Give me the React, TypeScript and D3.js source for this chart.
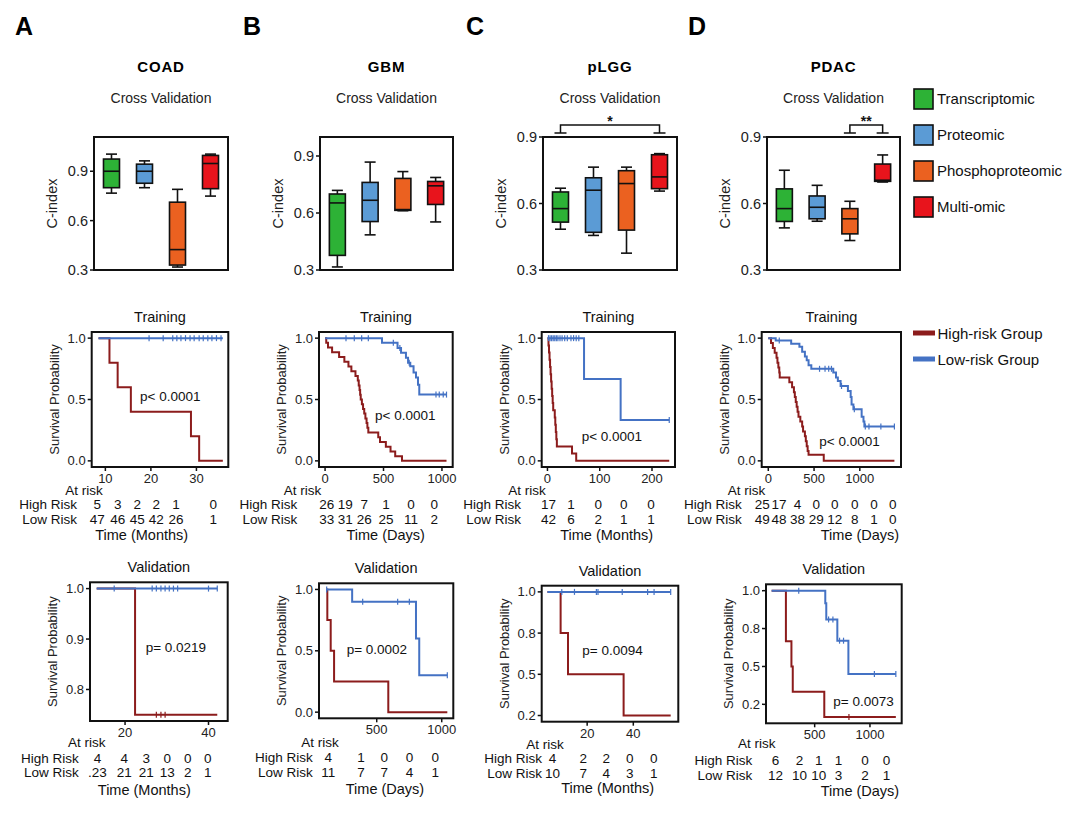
import React from "react";
import * as d3 from "d3";

const FONT = "'Liberation Sans', Arial, Helvetica, sans-serif";

// ---- cross validation C-index ----
const omics = ["Transcriptomic", "Proteomic", "Phosphoproteomic", "Multi-omic"];
const omicColors = ["#2db236", "#5b9bd5", "#eb6120", "#e8141c"];
const cindexTicks = [0.3, 0.6, 0.9];

// [min, q1, median, q3, max] for each omic
const coadCindex = [
  [0.767, 0.8, 0.9, 0.974, 1.004],
  [0.8, 0.827, 0.9, 0.943, 0.963],
  [0.318, 0.33, 0.424, 0.712, 0.79],
  [0.749, 0.794, 0.947, 0.996, 1.004],
];
const gbmCindex = [
  [0.316, 0.377, 0.653, 0.7, 0.719],
  [0.485, 0.555, 0.667, 0.761, 0.868],
  [0.612, 0.614, 0.618, 0.782, 0.818],
  [0.553, 0.645, 0.743, 0.766, 0.787],
];
const plggCindex = [
  [0.484, 0.516, 0.577, 0.652, 0.669],
  [0.456, 0.47, 0.66, 0.716, 0.764],
  [0.376, 0.48, 0.69, 0.748, 0.764],
  [0.656, 0.667, 0.72, 0.82, 0.825],
];
const pdacCindex = [
  [0.49, 0.519, 0.577, 0.666, 0.75],
  [0.52, 0.531, 0.583, 0.634, 0.682],
  [0.433, 0.463, 0.531, 0.577, 0.61],
  [0.697, 0.7, 0.705, 0.778, 0.819],
];
const plggSig = [["Transcriptomic", "Multi-omic", "*"]];
const pdacSig = [["Phosphoproteomic", "Multi-omic", "**"]];

// ---- survival ----
const groups = ["High-risk Group", "Low-risk Group"];
const groupColors = ["#8c1c1c", "#4472c4"];
const survTicks = [0, 0.5, 1];
const survTickLabels = ["0.0", "0.5", "1.0"];

// steps are [time, survival]
const coadTrainHigh = [[8.5, 1], [10.9, 0.8], [12.7, 0.6], [15.6, 0.4], [28.8, 0.2], [30.6, 0]];
const coadTrainLow = [[8.5, 1]];
const coadTrainLowCensor = [19.6, 22.7, 24.8, 25.7, 26.6, 27.6, 28.6, 29.5, 30.6, 31.5, 32.5, 33.4, 34.4, 35.4];
const coadTrainRiskTimes = [8.2, 12.7, 17, 21.2, 25.5, 33.7];
const coadTrainRiskHigh = [5, 3, 2, 2, 1, 0];
const coadTrainRiskLow = [47, 46, 45, 42, 26, 1];

const gbmTrainHigh = [[0, 1], [10, 0.962], [25, 0.923], [60, 0.885], [120, 0.846], [165, 0.808], [200, 0.769], [225, 0.731], [260, 0.692], [280, 0.654], [288, 0.615], [295, 0.577], [300, 0.538], [305, 0.5], [315, 0.462], [325, 0.423], [335, 0.385], [345, 0.346], [355, 0.308], [362, 0.269], [370, 0.231], [455, 0.192], [470, 0.154], [520, 0.115], [560, 0.077], [600, 0.038], [658, 0]];
const gbmTrainLow = [[0, 1], [487, 0.963], [620, 0.92], [650, 0.88], [692, 0.84], [710, 0.8], [729, 0.77], [757, 0.72], [778, 0.68], [795, 0.62], [806, 0.54]];
const gbmTrainLowCensor = [179, 250, 313, 370, 584, 640, 720, 949, 977, 1011, 1039];
const gbmTrainRiskTimes = [14, 173, 336, 521, 735, 934];
const gbmTrainRiskHigh = [26, 19, 7, 1, 0, 0];
const gbmTrainRiskLow = [33, 31, 26, 25, 11, 2];

const plggTrainHigh = [[0, 1], [2, 0.941], [3, 0.882], [4, 0.824], [5, 0.765], [6, 0.706], [7, 0.647], [8, 0.588], [9, 0.529], [10, 0.471], [11, 0.412], [14, 0.353], [15, 0.294], [16, 0.235], [17, 0.176], [18, 0.118], [47, 0.059], [55, 0]];
const plggTrainLow = [[0, 1], [70, 0.667], [140, 0.333]];
const plggTrainLowCensor = [2, 5, 8, 11, 14, 17, 20, 24, 28, 33, 38, 45, 50, 55, 60, 233];
const plggTrainRiskTimes = [2, 45, 97, 146, 198];
const plggTrainRiskHigh = [17, 1, 0, 0, 0];
const plggTrainRiskLow = [42, 6, 2, 1, 1];

const pdacTrainHigh = [[0, 1], [30, 0.96], [50, 0.92], [70, 0.88], [90, 0.84], [100, 0.8], [110, 0.76], [120, 0.72], [125, 0.68], [230, 0.64], [260, 0.6], [280, 0.56], [290, 0.52], [300, 0.48], [310, 0.44], [320, 0.4], [330, 0.36], [350, 0.32], [370, 0.28], [380, 0.24], [400, 0.2], [410, 0.16], [420, 0.12], [430, 0.08], [440, 0.05], [606, 0]];
const pdacTrainLow = [[0, 1], [81, 0.98], [250, 0.955], [340, 0.93], [370, 0.89], [400, 0.85], [420, 0.82], [440, 0.78], [470, 0.75], [710, 0.72], [740, 0.68], [760, 0.65], [790, 0.61], [870, 0.57], [900, 0.52], [910, 0.46], [930, 0.42], [1020, 0.36], [1040, 0.32], [1050, 0.28]];
const pdacTrainLowCensor = [120, 560, 620, 660, 690, 800, 940, 1060, 1100, 1230, 1378];
const pdacTrainRiskTimes = [-66, 118, 320, 523, 725, 945, 1154, 1359];
const pdacTrainRiskHigh = [25, 17, 4, 0, 0, 0, 0, 0];
const pdacTrainRiskLow = [49, 48, 38, 29, 12, 8, 1, 0];

const coadValHigh = [[13.2, 1], [22.4, 0.75]];
const coadValHighCensor = [27.5, 28.6, 29.6];
const coadValLow = [[13.2, 1]];
const coadValLowCensor = [17.4, 26.5, 27.5, 28.6, 29.6, 30.6, 31.6, 32.6, 40, 42.1];
const coadValRiskTimes = [13.4, 19.8, 25.1, 30.1, 35, 39.8];
const coadValRiskHigh = [4, 4, 3, 0, 0, 0];
const coadValRiskLow = [".23", 21, 21, 13, 2, 1];

const gbmValHigh = [[115, 1], [120, 0.75], [146, 0.5], [172, 0.25], [589, 0]];
const gbmValLow = [[115, 1], [311, 0.9], [802, 0.6], [827, 0.3]];
const gbmValLowCensor = [115, 392, 661, 751, 1043];
const gbmValRiskTimes = [128, 380, 557, 752, 950];
const gbmValRiskHigh = [4, 1, 0, 0, 0];
const gbmValRiskLow = [11, 7, 7, 4, 1];

const plggValHigh = [[2.8, 1], [8.5, 0.75], [11.7, 0.5], [35.8, 0.25]];
const plggValLow = [[2.8, 1]];
const plggValLowCensor = [9, 14.5, 24, 24.7, 35.2, 46.2, 49, 56.2];
const plggValRiskTimes = [5, 18.3, 28.3, 38.5, 48.9];
const plggValRiskHigh = [4, 2, 2, 0, 0];
const plggValRiskLow = [10, 7, 4, 3, 1];

const pdacValHigh = [[111, 1], [240, 0.667], [290, 0.5], [302, 0.333], [587, 0.167]];
const pdacValHighCensor = [810];
const pdacValLow = [[111, 1], [596, 0.917], [605, 0.81], [705, 0.67], [805, 0.45]];
const pdacValLowCensor = [356, 626, 665, 725, 761, 1040, 1234];
const pdacValRiskTimes = [147, 362, 536, 716, 955, 1150];
const pdacValRiskHigh = [6, 2, 1, 1, 0, 0];
const pdacValRiskLow = [12, 10, 10, 3, 2, 1];

const quarterTicks = [0.25, 0.5, 0.75, 1];
const quarterTickLabels = ["0.2", "0.5", "0.8", "1.0"];

const boxPanels = [
  { letter: "A", letterX: 15, title: "COAD", frame: [94, 228, 137, 270], domain: [0.3, 1.108], stats: coadCindex, sig: [] },
  { letter: "B", letterX: 243, title: "GBM", frame: [320, 453, 137, 270], domain: [0.3, 1.0], stats: gbmCindex, sig: [] },
  { letter: "C", letterX: 466, title: "pLGG", frame: [543, 677, 137, 270], domain: [0.3, 0.9], stats: plggCindex, sig: plggSig },
  { letter: "D", letterX: 688, title: "PDAC", frame: [767, 900, 137, 270], domain: [0.3, 0.9], stats: pdacCindex, sig: pdacSig },
];

const kmPanels = [
  { title: "Training", frame: [91.7, 228.3, 332, 467], xDomain: [7, 37], yDomain: [-0.05, 1.05], xTicks: [10, 20, 30], yTicks: survTicks, yLabels: survTickLabels, high: coadTrainHigh, highCensor: [], low: coadTrainLow, lowCensor: coadTrainLowCensor, end: 35.8, p: "p< 0.0001", pAt: [140, 401], riskTimes: coadTrainRiskTimes, riskHigh: coadTrainRiskHigh, riskLow: coadTrainRiskLow, atRiskAt: [84, 494.5], rowLabelX: 77, rowY: [509, 524], timeLabel: "Time (Months)", timeAt: [141.7, 540] },
  { title: "Training", frame: [319, 452.7, 332, 467], xDomain: [-52, 1092], yDomain: [-0.05, 1.05], xTicks: [0, 500, 1000], yTicks: survTicks, yLabels: survTickLabels, high: gbmTrainHigh, highCensor: [], low: gbmTrainLow, lowCensor: gbmTrainLowCensor, end: 1039, p: "p< 0.0001", pAt: [375, 419.5], riskTimes: gbmTrainRiskTimes, riskHigh: gbmTrainRiskHigh, riskLow: gbmTrainRiskLow, atRiskAt: [302.5, 494.5], rowLabelX: 297.3, rowY: [509, 524], timeLabel: "Time (Days)", timeAt: [385.7, 540] },
  { title: "Training", frame: [541.7, 675, 332, 467], xDomain: [-11, 244], yDomain: [-0.05, 1.05], xTicks: [0, 100, 200], yTicks: survTicks, yLabels: survTickLabels, high: plggTrainHigh, highCensor: [], low: plggTrainLow, lowCensor: plggTrainLowCensor, end: 233, p: "p< 0.0001", pAt: [581.7, 441], riskTimes: plggTrainRiskTimes, riskHigh: plggTrainRiskHigh, riskLow: plggTrainRiskLow, atRiskAt: [527, 494.5], rowLabelX: 521, rowY: [509, 524], timeLabel: "Time (Months)", timeAt: [606.7, 540] },
  { title: "Training", frame: [761.7, 901, 332, 467], xDomain: [-72, 1450], yDomain: [-0.05, 1.05], xTicks: [0, 500, 1000], yTicks: survTicks, yLabels: survTickLabels, high: pdacTrainHigh, highCensor: [], low: pdacTrainLow, lowCensor: pdacTrainLowCensor, end: 1378, p: "p< 0.0001", pAt: [819.3, 446], riskTimes: pdacTrainRiskTimes, riskHigh: pdacTrainRiskHigh, riskLow: pdacTrainRiskLow, atRiskAt: [746.5, 494.5], rowLabelX: 741.7, rowY: [509, 524], timeLabel: "Time (Days)", timeAt: [860, 540] },
  { title: "Validation", frame: [90, 227.7, 582.3, 721], xDomain: [11.6, 44.6], yDomain: [0.7375, 1.0125], xTicks: [20, 40], yTicks: [0.8, 0.9, 1], yLabels: ["0.8", "0.9", "1.0"], high: coadValHigh, highCensor: coadValHighCensor, low: coadValLow, lowCensor: coadValLowCensor, end: 42.1, p: "p= 0.0219", pAt: [145.7, 652], riskTimes: coadValRiskTimes, riskHigh: coadValRiskHigh, riskLow: coadValRiskLow, atRiskAt: [86.7, 746.7], rowLabelX: 78.7, rowY: [763, 777], timeLabel: "Time (Months)", timeAt: [144.3, 795] },
  { title: "Validation", frame: [319, 453.3, 583.3, 718.3], xDomain: [56, 1089], yDomain: [-0.05, 1.05], xTicks: [500, 1000], yTicks: survTicks, yLabels: survTickLabels, high: gbmValHigh, highCensor: [], low: gbmValLow, lowCensor: gbmValLowCensor, end: 1043, p: "p= 0.0002", pAt: [346.7, 653.5], riskTimes: gbmValRiskTimes, riskHigh: gbmValRiskHigh, riskLow: gbmValRiskLow, atRiskAt: [320, 746.7], rowLabelX: 312.7, rowY: [762, 776.5], timeLabel: "Time (Days)", timeAt: [385, 794] },
  { title: "Validation", frame: [541.7, 678.3, 585.7, 721.7], xDomain: [0.3, 59.5], yDomain: [0.2125, 1.0375], xTicks: [20, 40], yTicks: quarterTicks, yLabels: quarterTickLabels, high: plggValHigh, highCensor: [], low: plggValLow, lowCensor: plggValLowCensor, end: 56.2, p: "p= 0.0094", pAt: [582.3, 654.5], riskTimes: plggValRiskTimes, riskHigh: plggValRiskHigh, riskLow: plggValRiskLow, atRiskAt: [545, 748.5], rowLabelX: 542, rowY: [763, 777.5], timeLabel: "Time (Months)", timeAt: [607.7, 793] },
  { title: "Validation", frame: [766, 901.7, 584.3, 723.3], xDomain: [60, 1287], yDomain: [0.125, 1.042], xTicks: [500, 1000], yTicks: quarterTicks, yLabels: quarterTickLabels, high: pdacValHigh, highCensor: pdacValHighCensor, low: pdacValLow, lowCensor: pdacValLowCensor, end: 1234, p: "p= 0.0073", pAt: [833.3, 706], riskTimes: pdacValRiskTimes, riskHigh: pdacValRiskHigh, riskLow: pdacValRiskLow, atRiskAt: [756.7, 748.3], rowLabelX: 752.3, rowY: [765, 780], timeLabel: "Time (Days)", timeAt: [860, 796] },
];

const survAt = (steps: number[][], t: number) => {
  let s = steps[0][1];
  for (const st of steps) if (st[0] <= t) s = st[1];
  return s;
};

const BoxPanel = ({ p }: { p: any }) => {
  const [x0, x1, y0, y1] = p.frame;
  const x = d3.scalePoint().domain(omics).range([x0, x1]).padding(0.53);
  const y = d3.scaleLinear().domain(p.domain).range([y1, y0]);
  const cx = (x0 + x1) / 2;
  const bw = 16;
  const cap = 11;
  return (
    <g>
      <text x={p.letterX} y={35} fontSize={25} fontWeight="bold">{p.letter}</text>
      <text x={cx} y={72} fontSize={15} fontWeight="bold" textAnchor="middle" letterSpacing={0.8}>{p.title}</text>
      <text x={cx} y={103} fontSize={14} textAnchor="middle" fill="#222">Cross Validation</text>
      {p.stats.map((s: number[], i: number) => {
        const c = x(omics[i])!;
        return (
          <g key={i} stroke="#111" strokeWidth={1.6}>
            <line x1={c} x2={c} y1={y(s[3])} y2={y(s[4])} />
            <line x1={c} x2={c} y1={y(s[1])} y2={y(s[0])} />
            <line x1={c - cap / 2} x2={c + cap / 2} y1={y(s[4])} y2={y(s[4])} />
            <line x1={c - cap / 2} x2={c + cap / 2} y1={y(s[0])} y2={y(s[0])} />
            <rect x={c - bw / 2} y={y(s[3])} width={bw} height={y(s[1]) - y(s[3])} fill={omicColors[i]} />
            <line x1={c - bw / 2} x2={c + bw / 2} y1={y(s[2])} y2={y(s[2])} />
          </g>
        );
      })}
      <rect x={x0} y={y0} width={x1 - x0} height={y1 - y0} fill="none" stroke="#111" strokeWidth={2} />
      {cindexTicks.map((t) => (
        <g key={t}>
          <line x1={x0 - 4} x2={x0} y1={y(t)} y2={y(t)} stroke="#111" strokeWidth={1.5} />
          <text x={x0 - 6} y={y(t) + 5} fontSize={14.5} textAnchor="end" fill="#222">{t.toFixed(1)}</text>
        </g>
      ))}
      <text transform={`translate(${x0 - 37},${(y0 + y1) / 2}) rotate(-90)`} fontSize={14.5} textAnchor="middle" fill="#222">C-index</text>
      {p.sig.map((sg: string[], i: number) => {
        const a = x(sg[0])!;
        const b = x(sg[1])!;
        const top = y0 - 12;
        return (
          <g key={i} stroke="#111" strokeWidth={1.5} fill="none">
            <path d={`M${a},${y0 - 4}V${top}H${b}V${y0 - 4}`} />
            <line x1={a - 6} x2={a + 6} y1={y0 - 4} y2={y0 - 4} />
            <line x1={b - 6} x2={b + 6} y1={y0 - 4} y2={y0 - 4} />
            <text x={(a + b) / 2} y={top + 1} fontSize={14} fontWeight="bold" textAnchor="middle" stroke="none" fill="#111">{sg[2]}</text>
          </g>
        );
      })}
    </g>
  );
};

const KMPanel = ({ p }: { p: any }) => {
  const [x0, x1, y0, y1] = p.frame;
  const x = d3.scaleLinear().domain(p.xDomain).range([x0, x1]);
  const y = d3.scaleLinear().domain(p.yDomain).range([y1, y0]);
  const line = d3.line<number[]>().x((d) => x(d[0])).y((d) => y(d[1])).curve(d3.curveStepAfter);
  const curves = [
    { steps: p.high, censor: p.highCensor, color: groupColors[0] },
    { steps: p.low, censor: p.lowCensor, color: groupColors[1] },
  ];
  const cx = (x0 + x1) / 2;
  return (
    <g>
      <text x={cx} y={y0 - 10} fontSize={14.5} textAnchor="middle" fill="#111">{p.title}</text>
      {curves.map((c, i) => {
        const pts = [...c.steps, [p.end, c.steps[c.steps.length - 1][1]]];
        return (
          <g key={i}>
            <path d={line(pts) || ""} fill="none" stroke={c.color} strokeWidth={2} />
            {c.censor.map((t: number, j: number) => (
              <line key={j} x1={x(t)} x2={x(t)} y1={y(survAt(c.steps, t)) - 3} y2={y(survAt(c.steps, t)) + 3} stroke={c.color} strokeWidth={1.2} />
            ))}
          </g>
        );
      })}
      <rect x={x0} y={y0} width={x1 - x0} height={y1 - y0} fill="none" stroke="#111" strokeWidth={2} />
      {p.yTicks.map((t: number, i: number) => (
        <g key={t}>
          <line x1={x0 - 4} x2={x0} y1={y(t)} y2={y(t)} stroke="#111" strokeWidth={1.5} />
          <text x={x0 - 6} y={y(t) + 4.5} fontSize={13} textAnchor="end" fill="#222">{p.yLabels[i]}</text>
        </g>
      ))}
      {p.xTicks.map((t: number) => (
        <g key={t}>
          <line x1={x(t)} x2={x(t)} y1={y1} y2={y1 + 4} stroke="#111" strokeWidth={1.5} />
          <text x={x(t)} y={y1 + 16} fontSize={13} textAnchor="middle" fill="#222">{t}</text>
        </g>
      ))}
      <text transform={`translate(${x0 - 33},${(y0 + y1) / 2}) rotate(-90)`} fontSize={13} textAnchor="middle" fill="#222">Survival Probability</text>
      <text x={p.pAt[0]} y={p.pAt[1]} fontSize={13.5} fill="#111">{p.p}</text>
      <text x={p.atRiskAt[0]} y={p.atRiskAt[1]} fontSize={13.5} textAnchor="middle" fill="#111">At risk</text>
      <text x={p.rowLabelX} y={p.rowY[0]} fontSize={13.5} textAnchor="end" fill="#111">High Risk</text>
      <text x={p.rowLabelX} y={p.rowY[1]} fontSize={13.5} textAnchor="end" fill="#111">Low Risk</text>
      {p.riskTimes.map((t: number, i: number) => (
        <g key={i} fontSize={13.5} textAnchor="middle" fill="#111">
          <text x={x(t)} y={p.rowY[0]}>{p.riskHigh[i]}</text>
          <text x={x(t)} y={p.rowY[1]}>{p.riskLow[i]}</text>
        </g>
      ))}
      <text x={p.timeAt[0]} y={p.timeAt[1]} fontSize={14.5} textAnchor="middle" fill="#111">{p.timeLabel}</text>
    </g>
  );
};

export default function App() {
  return (
    <svg width={1080} height={817} style={{ position: "absolute", left: 0, top: 0, background: "#fff" }} fontFamily={FONT}>
      {boxPanels.map((p) => <BoxPanel key={p.letter} p={p} />)}
      {kmPanels.map((p, i) => <KMPanel key={i} p={p} />)}
      {omics.map((o, i) => (
        <g key={o}>
          <rect x={914} y={89 + i * 36} width={19} height={20} fill={omicColors[i]} stroke="#111" strokeWidth={1.6} />
          <text x={937} y={104 + i * 36} fontSize={15} fill="#111">{o}</text>
        </g>
      ))}
      {groups.map((g, i) => (
        <g key={g}>
          <line x1={913} x2={935} y1={333 + i * 26} y2={333 + i * 26} stroke={groupColors[i]} strokeWidth={5} />
          <text x={937.5} y={338.5 + i * 26} fontSize={15} fill="#111">{g}</text>
        </g>
      ))}
    </svg>
  );
}
